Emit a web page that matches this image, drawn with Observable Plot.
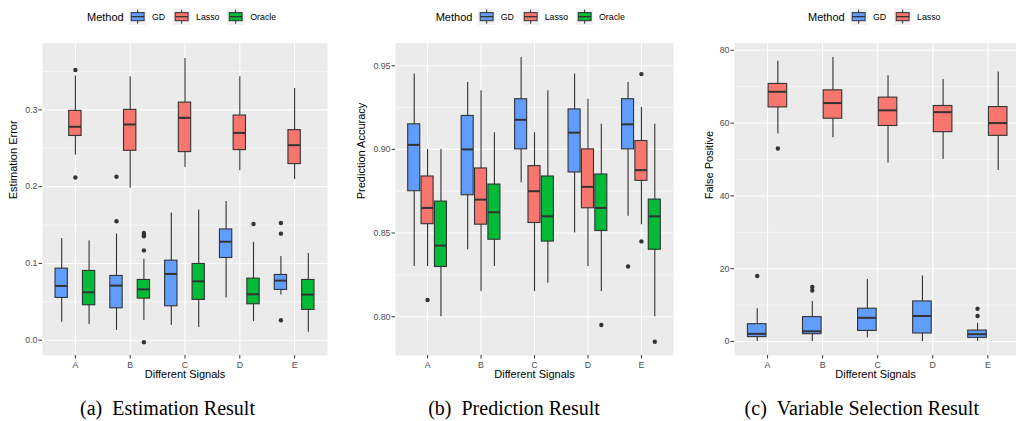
<!DOCTYPE html>
<html><head><meta charset="utf-8">
<script src="https://cdn.jsdelivr.net/npm/d3@7"></script>
<script src="https://cdn.jsdelivr.net/npm/@observablehq/plot@0.6"></script>
<style>
html,body{margin:0;padding:0;background:#fff;overflow:hidden}
#root{position:relative;width:1016px;height:421px;font-family:"Liberation Sans",Arial,sans-serif;color:#000}
.panel{position:absolute;top:36px}
.legend{position:absolute;top:7.5px;height:18px;display:flex;align-items:center;white-space:nowrap}
.legend .ttl{font-size:11px;margin-right:5.5px}
.legend .lab{font-size:8.8px;margin-left:5.5px;margin-right:8px}
.legend svg{display:block}
.caption{position:absolute;top:398px;line-height:20px;font-family:"Liberation Serif","Times New Roman",serif;font-size:20px;transform:translateX(-50%);white-space:pre}
</style></head><body><div id="root"></div>
<script>
// ---------- data ----------
const signals = ["A", "B", "C", "D", "E"];
const methodsAll = ["GD", "Lasso", "Oracle"];
const methodColors = ["#619CFF", "#F8766D", "#00BA38"];

// each box: [lower whisker, Q1, median, Q3, upper whisker], one per signal A..E
// (a) Estimation Error
const estGD     = [[0.0234,0.0551,0.0707,0.0932,0.1326],[0.0126,0.0416,0.0711,0.0837,0.1383],[0.0191,0.0442,0.0863,0.1036,0.1657],[0.0551,0.1071,0.1283,0.1443,0.1808],[0.0590,0.0655,0.0776,0.0850,0.1092]];
const estLasso  = [[0.241,0.266,0.278,0.2987,0.344],[0.198,0.2467,0.281,0.300,0.343],[0.225,0.245,0.2896,0.3095,0.367],[0.2207,0.2476,0.270,0.2926,0.343],[0.2094,0.2294,0.254,0.2736,0.328]];
const estOracle = [[0.0204,0.0455,0.0624,0.0902,0.1292],[0.0256,0.0542,0.0663,0.0785,0.1053],[0.0165,0.0525,0.0767,0.0993,0.1696],[0.0243,0.0468,0.0598,0.0802,0.1274],[0.0104,0.0395,0.0594,0.0785,0.1131]];
const estOutGD     = [[],[0.155,0.213],[],[],[0.1527,0.1388,0.026]];
const estOutLasso  = [[0.352,0.212],[],[],[],[]];
const estOutOracle = [[],[0.1397,0.1375,0.1353,0.117,-0.0026],[],[0.1514],[]];
const estMajor = [0, 0.1, 0.2, 0.3];
const estMinor = [0.05, 0.15, 0.25, 0.35];

// (b) Prediction Accuracy
const preGD     = [[0.830,0.875,0.9027,0.915,0.945],[0.840,0.8726,0.900,0.920,0.940],[0.880,0.900,0.9177,0.930,0.955],[0.850,0.8862,0.910,0.9239,0.945],[0.860,0.900,0.915,0.930,0.940]];
const preLasso  = [[0.830,0.8553,0.865,0.8838,0.900],[0.815,0.855,0.870,0.8886,0.935],[0.815,0.856,0.875,0.890,0.910],[0.830,0.8648,0.8776,0.900,0.930],[0.855,0.8812,0.8876,0.905,0.925]];
const preOracle = [[0.800,0.8297,0.8425,0.8688,0.900],[0.830,0.846,0.8624,0.879,0.910],[0.820,0.8449,0.860,0.8838,0.935],[0.815,0.8512,0.865,0.885,0.915],[0.800,0.840,0.860,0.870,0.915]];
const preOutGD     = [[],[],[],[],[0.830]];
const preOutLasso  = [[0.810],[],[],[],[0.945,0.845]];
const preOutOracle = [[],[],[],[0.795],[0.785]];
const preMajor = [0.80, 0.85, 0.90, 0.95];
const preMinor = [0.825, 0.875, 0.925];

// (c) False Positive
const fpGD    = [[0,1.2,2.1,4.75,9],[0,2.0,2.8,6.7,11],[1,2.9,6.5,9,17],[0,2.2,7,11,18],[0,1,2,3,5]];
const fpLasso = [[57,64.3,68.6,70.75,77],[56,61.2,65.5,69,78],[49,59.2,63.5,67,73],[50,57.5,63,64.7,72],[47,56.5,60,64.4,74]];
const fpOutGD    = [[18],[15,14],[],[],[9,7]];
const fpOutLasso = [[53],[],[],[],[]];
const fpMajor = [0, 20, 40, 60, 80];
const fpMinor = [10, 30, 50, 70];

// ---------- helpers ----------
function dodge(n, j) { const w = 0.75 / n; return {off: (j - (n - 1) / 2) * w, half: w * 0.9 / 2}; }
function buildBoxes(methods, series) {
  const rows = [];
  methods.forEach((m, j) => {
    const {off, half} = dodge(methods.length, j);
    series[j].forEach((s, i) => {
      const c = i + 1 + off;
      rows.push({method: m, signal: signals[i], x: c, x1: c - half, x2: c + half,
                 lo: s[0], q1: s[1], med: s[2], q3: s[3], hi: s[4]});
    });
  });
  return rows;
}
function buildOutliers(methods, outs) {
  const rows = [];
  methods.forEach((m, j) => {
    const {off} = dodge(methods.length, j);
    outs[j].forEach((vals, i) => vals.forEach(v => rows.push({method: m, x: i + 1 + off, y: v})));
  });
  return rows;
}
const root = document.getElementById("root");

function legend(methods, left) {
  const div = document.createElement("div");
  div.className = "legend";
  div.style.left = left + "px";
  const t = document.createElement("span"); t.className = "ttl"; t.textContent = "Method"; div.appendChild(t);
  methods.forEach(m => {
    const col = methodColors[methodsAll.indexOf(m)];
    const s = document.createElementNS("http://www.w3.org/2000/svg", "svg");
    s.setAttribute("width", 17.3); s.setAttribute("height", 17.3);
    s.innerHTML = `<rect width="17.3" height="17.3" fill="#F2F2F2"/>
      <line x1="8.65" x2="8.65" y1="1.6" y2="15.7" stroke="#333" stroke-width="1"/>
      <rect x="2.2" y="4.6" width="12.9" height="8.1" fill="${col}" stroke="#333" stroke-width="1"/>
      <line x1="2.2" x2="15.1" y1="8.65" y2="8.65" stroke="#333" stroke-width="1.3"/>`;
    div.appendChild(s);
    const l = document.createElement("span"); l.className = "lab"; l.textContent = m; div.appendChild(l);
  });
  root.appendChild(div);
}
function caption(text, cx) {
  const d = document.createElement("div"); d.className = "caption"; d.style.left = cx + "px"; d.textContent = text; root.appendChild(d);
}

function panel(cfg) {
  const boxes = buildBoxes(cfg.methods, cfg.series);
  const outs = buildOutliers(cfg.methods, cfg.outliers);
  const plot = Plot.plot({
    width: cfg.width, height: 352,
    marginTop: 6.5, marginBottom: 33, marginLeft: cfg.marginLeft, marginRight: cfg.marginRight,
    x: {domain: [0.4, cfg.xmax]},
    y: {domain: cfg.ydomain},
    color: {domain: methodsAll, range: methodColors},
    style: {fontFamily: "Liberation Sans, Arial, sans-serif", fontSize: "8.8px", background: "transparent", overflow: "visible", color: "#000"},
    marks: [
      Plot.frame({fill: "#EBEBEB", stroke: "none"}),
      Plot.ruleY(cfg.minor, {stroke: "#fff", strokeWidth: 0.55}),
      Plot.ruleY(cfg.major, {stroke: "#fff", strokeWidth: 1.1}),
      Plot.ruleX([1, 2, 3, 4, 5], {stroke: "#fff", strokeWidth: 1.1}),
      Plot.ruleX(boxes, {x: "x", y1: "lo", y2: "hi", stroke: "#333", strokeWidth: 1.1}),
      Plot.rect(boxes, {x1: "x1", x2: "x2", y1: "q1", y2: "q3", fill: "method", stroke: "#333", strokeWidth: 1.1}),
      Plot.ruleY(boxes, {y: "med", x1: "x1", x2: "x2", stroke: "#333", strokeWidth: 2}),
      Plot.dot(outs, {x: "x", y: "y", r: 2.2, fill: "#333", stroke: "none"}),
      Plot.axisY(cfg.major, {tickSize: 3.5, tickPadding: 1.5, tickFormat: cfg.fmt, stroke: "#333", fill: "#4D4D4D", fontSize: 8.8, label: null}),
      Plot.axisX([1, 2, 3, 4, 5], {tickSize: 3.5, tickPadding: 2.4, tickFormat: d => signals[d - 1], stroke: "#333", fill: "#4D4D4D", fontSize: 8.8, label: null}),
      Plot.text(["Different Signals"], {frameAnchor: "bottom", dy: 22.4, fontSize: 11, fill: "#000"}),
      Plot.text([cfg.ylabel], {frameAnchor: "left", dx: cfg.ylabelDx, rotate: -90, fontSize: 11, fill: "#000"})
    ]
  });
  plot.classList.add("panel");
  plot.style.left = cfg.left + "px";
  root.appendChild(plot);
}

panel({left: 0, width: 335, marginLeft: 42, marginRight: 8, xmax: 5.6,
  ydomain: [-0.0199, 0.3871], major: estMajor, minor: estMinor, fmt: d3.format(".1f"),
  ylabel: "Estimation Error", ylabelDx: -28.7,
  methods: ["GD", "Lasso", "Oracle"], series: [estGD, estLasso, estOracle], outliers: [estOutGD, estOutLasso, estOutOracle]});
panel({left: 340, width: 340, marginLeft: 55, marginRight: 7, xmax: 5.6,
  ydomain: [0.7768, 0.9636], major: preMajor, minor: preMinor, fmt: d3.format(".2f"),
  ylabel: "Prediction Accuracy", ylabelDx: -33.7,
  methods: ["GD", "Lasso", "Oracle"], series: [preGD, preLasso, preOracle], outliers: [preOutGD, preOutLasso, preOutOracle]});
panel({left: 676, width: 340, marginLeft: 58, marginRight: 0, xmax: 5.52,
  ydomain: [-3.85, 82.0], major: fpMajor, minor: fpMinor, fmt: d3.format("d"),
  ylabel: "False Positive", ylabelDx: -25.2,
  methods: ["GD", "Lasso"], series: [fpGD, fpLasso], outliers: [fpOutGD, fpOutLasso]});

legend(["GD", "Lasso", "Oracle"], 87);
legend(["GD", "Lasso", "Oracle"], 435.7);
legend(["GD", "Lasso"], 808);

caption("(a)\u2002Estimation Result", 167.5);
caption("(b)\u2002Prediction Result", 514);
caption("(c)\u2002Variable Selection Result", 861.8);
</script></body></html>
